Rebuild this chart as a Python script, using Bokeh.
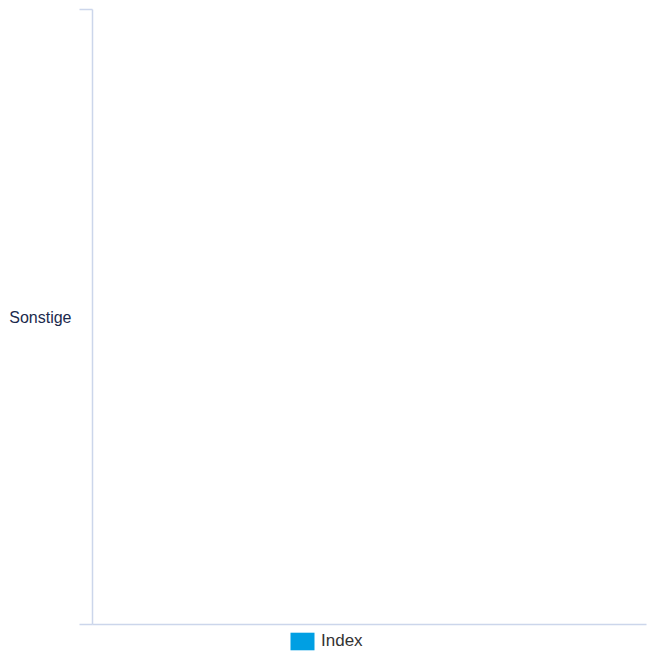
from bokeh.plotting import figure
from bokeh.models import Range1d, FixedTicker, Legend, LegendItem, ColumnDataSource
from bokeh.layouts import column
from bokeh.embed import file_html
from bokeh.resources import INLINE

# Data
categories = ["Sonstige"]
series_name = "Index"
index_values = [0]

AXIS_COLOR = "#ccd6eb"
LABEL_COLOR = "#1b2a4c"
BAR_COLOR = "#009fe3"
FONT = "Liberation Sans"

centers = [i + 0.5 for i in range(len(categories))]
edges = [float(i) for i in range(len(categories) + 1)]

source = ColumnDataSource(dict(y=centers, right=index_values, cat=categories))

p = figure(width=647, height=628, output_backend="svg", toolbar_location=None,
           x_range=Range1d(0, 1), y_range=Range1d(len(categories), 0),
           min_border_left=92, min_border_top=9, min_border_right=1, min_border_bottom=4)

r = p.hbar(y="y", right="right", left=0, height=0.6, source=source,
           fill_color=BAR_COLOR, line_color=None)

p.outline_line_color = None
p.xgrid.visible = False
p.ygrid.visible = False
p.background_fill_color = "white"
p.border_fill_color = "white"

# left (category) axis
ya = p.yaxis[0]
ya.ticker = FixedTicker(ticks=centers, minor_ticks=edges)
ya.major_label_overrides = {c: cat for c, cat in zip(centers, categories)}
ya.axis_line_color = AXIS_COLOR
ya.axis_line_width = 1.5
ya.major_tick_line_color = None
ya.major_tick_out = 0
ya.major_tick_in = 0
ya.minor_tick_line_color = AXIS_COLOR
ya.minor_tick_line_width = 1.5
ya.minor_tick_out = 13
ya.minor_tick_in = 0
ya.major_label_standoff = 8
ya.major_label_text_font = FONT
ya.major_label_text_font_size = "16px"
ya.major_label_text_color = LABEL_COLOR

# bottom (value) axis: just a line
xa = p.xaxis[0]
xa.ticker = FixedTicker(ticks=[])
xa.axis_line_color = AXIS_COLOR
xa.axis_line_width = 1.5
xa.major_tick_line_color = None
xa.minor_tick_line_color = None
xa.major_tick_out = 0
xa.major_tick_in = 0
xa.minor_tick_out = 0
xa.minor_tick_in = 0
xa.major_label_standoff = 0
xa.major_label_text_font_size = "0px"

# legend strip
pl = figure(width=647, height=24, output_backend="svg", toolbar_location=None,
            x_range=Range1d(0, 1), y_range=Range1d(0, 1),
            min_border_left=0, min_border_top=0, min_border_right=0, min_border_bottom=0)
pl.axis.visible = False
pl.grid.visible = False
pl.outline_line_color = None
rl = pl.hbar(y="y", right="right", left=0, height=0.6, source=source,
             fill_color=BAR_COLOR, line_color=None)

legend = Legend(items=[LegendItem(label=series_name, renderers=[rl])],
                location=(195, 0), orientation="horizontal",
                glyph_width=30, glyph_height=22, label_height=22,
                label_standoff=4, padding=0, margin=0, spacing=0,
                label_text_font=FONT, label_text_font_size="17px",
                label_text_color="#333333",
                border_line_color=None, background_fill_alpha=0)
pl.add_layout(legend)

layout = column(p, pl, spacing=0)
open("out.html", "w").write(file_html(layout, INLINE))
